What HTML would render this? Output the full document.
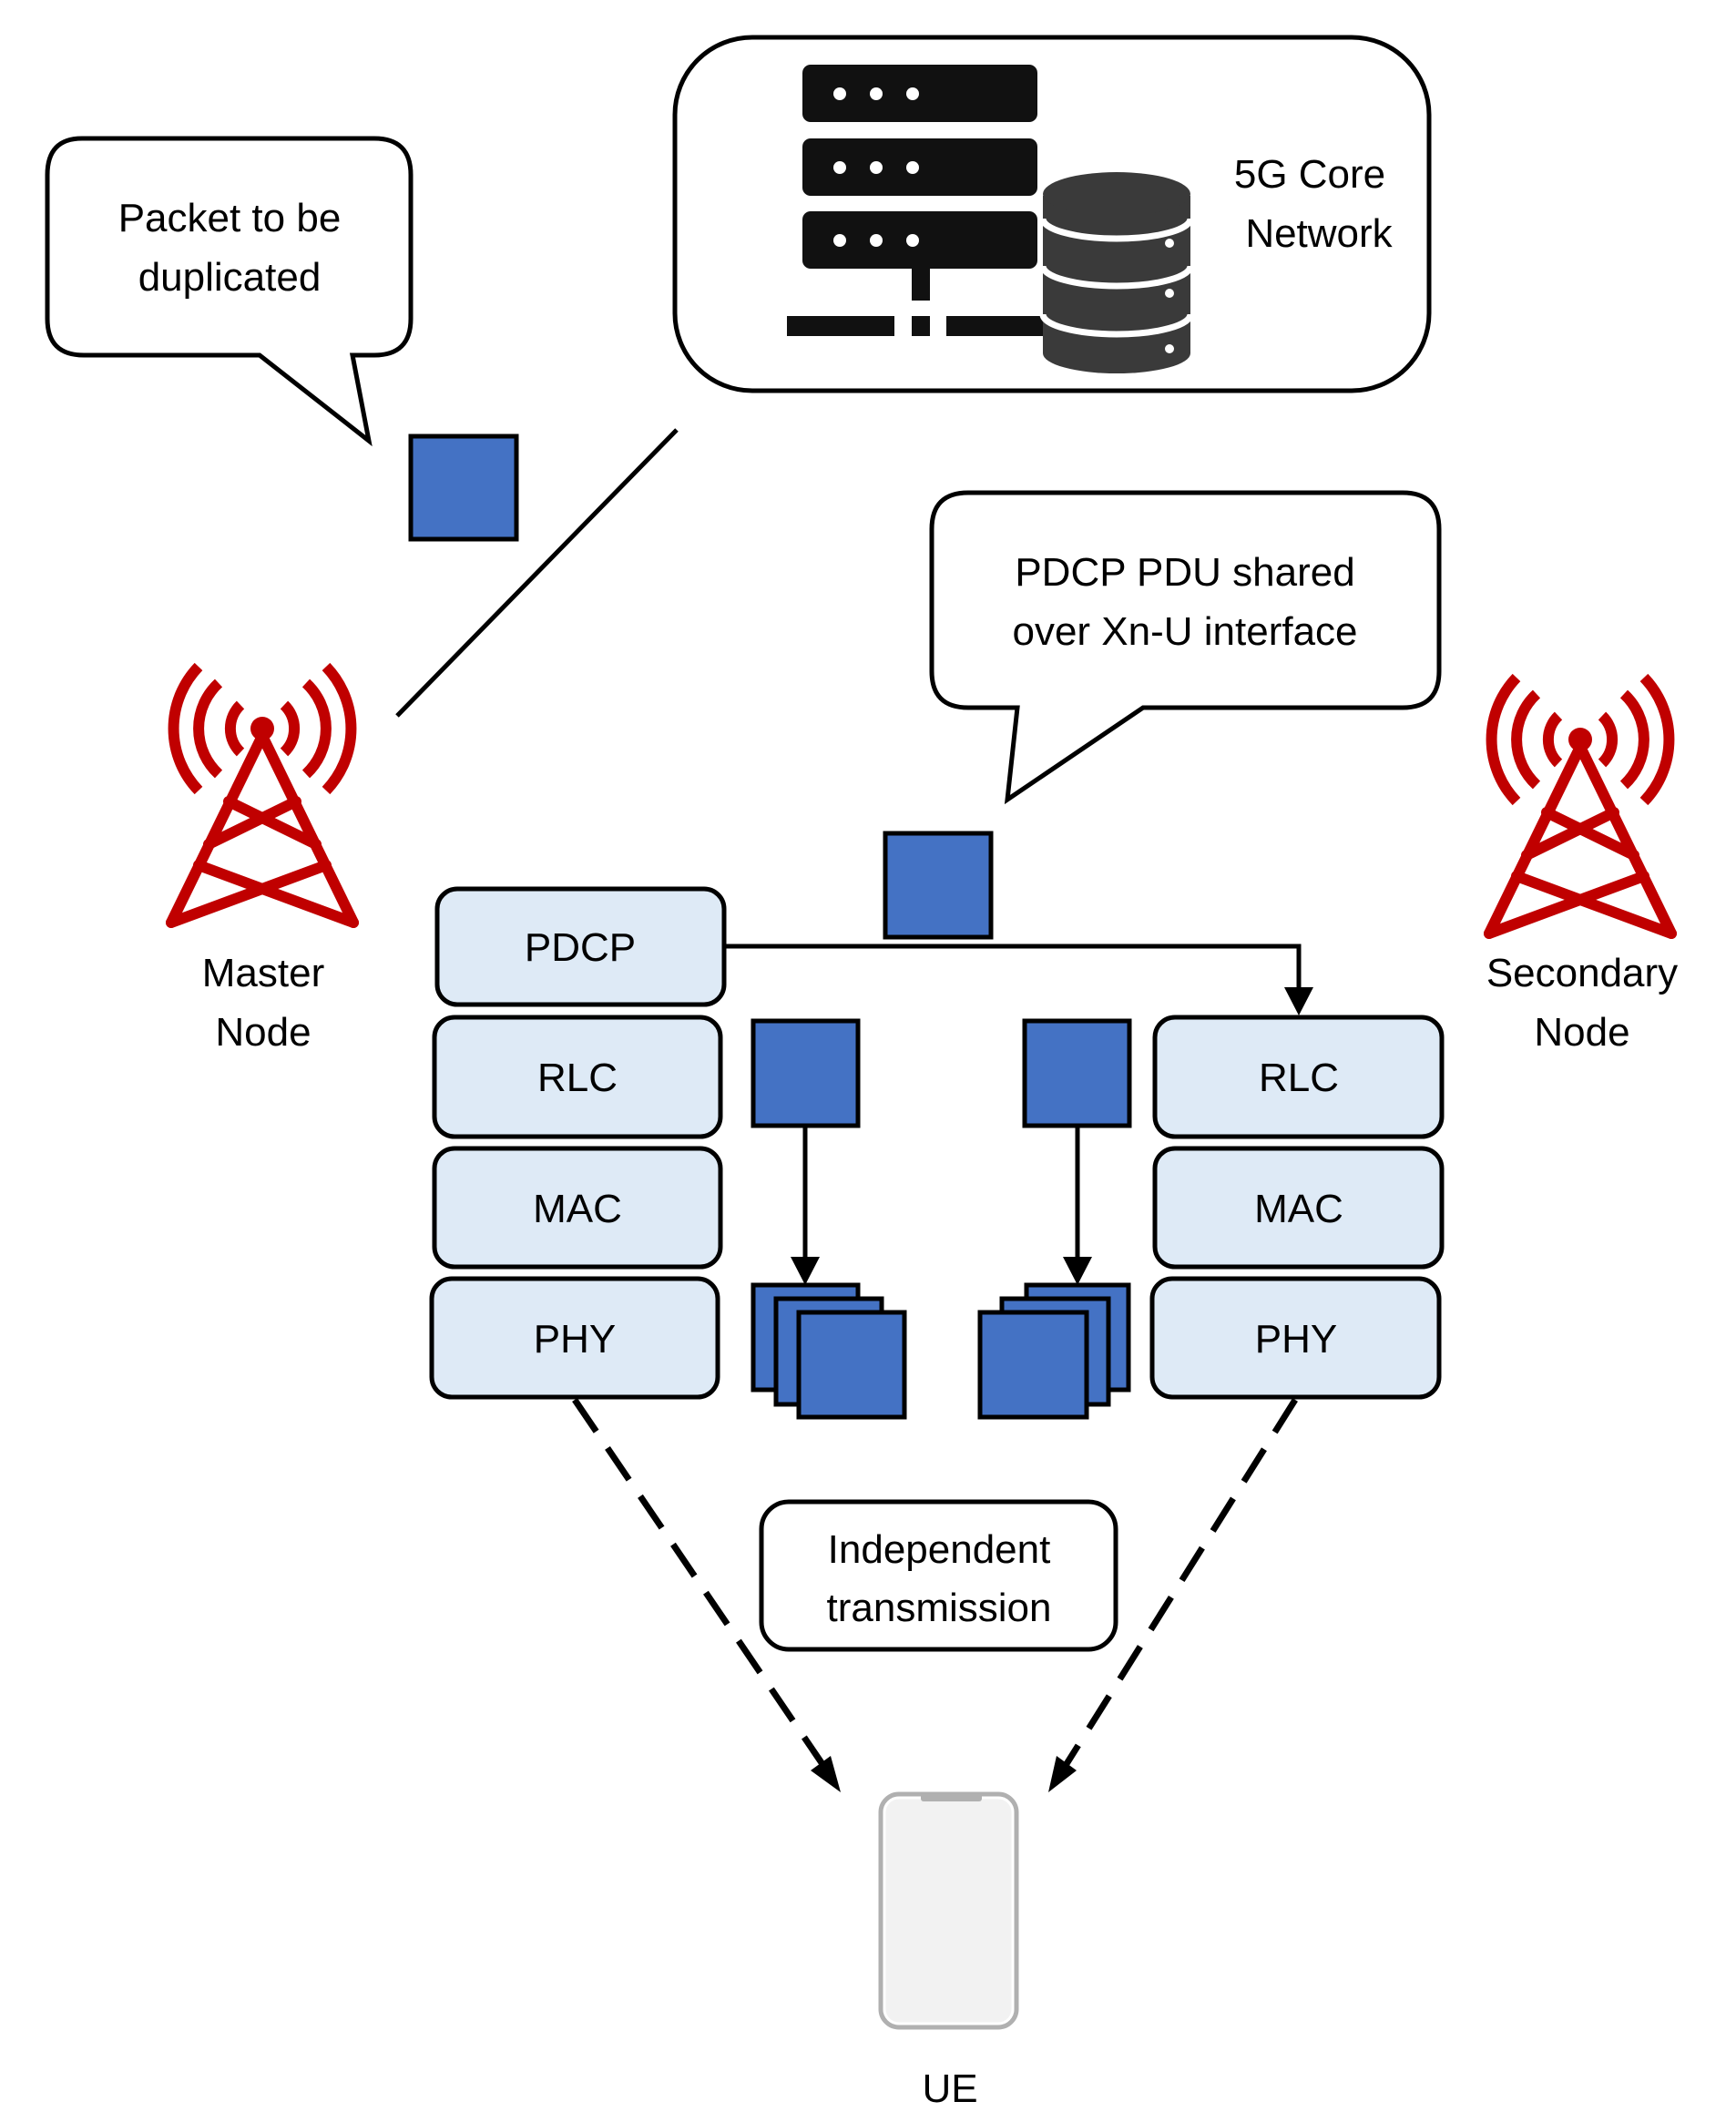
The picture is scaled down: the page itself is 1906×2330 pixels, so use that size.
<!DOCTYPE html>
<html><head><meta charset="utf-8"><style>html,body{margin:0;padding:0;background:#fff}svg{display:block}</style></head><body>
<svg width="1906" height="2330" viewBox="0 0 1906 2330" xmlns="http://www.w3.org/2000/svg" font-family="Liberation Sans, sans-serif" font-size="44" text-anchor="middle">
<defs>
<g id="tw" fill="none" stroke="#c00000" stroke-width="12" stroke-linecap="round" stroke-linejoin="round">
<circle cx="0" cy="0" r="13" fill="#c00000" stroke="none"/>
<path d="M0,8 L-100,213 M0,8 L100,213"/>
<path d="M-37,80 L59,127 M37,80 L-59,127"/>
<path d="M-70,150 L100,213 M70,150 L-100,213"/>
<path d="M-24,-26 A36,36 0 0 0 -24,26 M24,-26 A36,36 0 0 1 24,26" stroke-linecap="butt"/>
<path d="M-48,-50 A68,68 0 0 0 -48,50 M48,-50 A68,68 0 0 1 48,50" stroke-linecap="butt"/>
<path d="M-70,-68 A98,98 0 0 0 -70,68 M70,-68 A98,98 0 0 1 70,68" stroke-linecap="butt"/>
</g>
</defs>
<!-- Packet bubble -->
<path d="M90,152 H411 Q451,152 451,192 V350 Q451,390 411,390 H387 L405,484 L285,390 H92 Q52,390 52,350 V192 Q52,152 90,152 Z" fill="#fff" stroke="#000" stroke-width="5"/>
<text x="252" y="254">Packet to be</text>
<text x="252" y="319">duplicated</text>
<rect x="451" y="479" width="116" height="113" fill="#4472c4" stroke="#000" stroke-width="5"/>
<!-- Core box -->
<rect x="741" y="41" width="828" height="388" rx="85" fill="#fff" stroke="#000" stroke-width="5"/>
<g fill="#111">
<rect x="881" y="71" width="258" height="63" rx="9"/>
<rect x="881" y="152" width="258" height="63" rx="9"/>
<rect x="881" y="232" width="258" height="63" rx="9"/>
<rect x="1001" y="295" width="20" height="35"/>
<rect x="864" y="347" width="118" height="22"/>
<rect x="1001" y="347" width="20" height="22"/>
<rect x="1039" y="347" width="110" height="22"/>
</g>
<g fill="#fff">
<circle cx="922" cy="103" r="7"/><circle cx="962" cy="103" r="7"/><circle cx="1002" cy="103" r="7"/>
<circle cx="922" cy="184" r="7"/><circle cx="962" cy="184" r="7"/><circle cx="1002" cy="184" r="7"/>
<circle cx="922" cy="264" r="7"/><circle cx="962" cy="264" r="7"/><circle cx="1002" cy="264" r="7"/>
</g>
<g>
<path d="M1145,215 V388 A81,22 0 0 0 1307,388 V215 Z" fill="#3a3a3a"/>
<ellipse cx="1226" cy="213" rx="81" ry="24" fill="#3a3a3a"/>
<path d="M1145,240 A81,22 0 0 0 1307,240" fill="none" stroke="#fff" stroke-width="7"/>
<path d="M1145,292 A81,22 0 0 0 1307,292" fill="none" stroke="#fff" stroke-width="7"/>
<path d="M1145,345 A81,22 0 0 0 1307,345" fill="none" stroke="#fff" stroke-width="7"/>
<circle cx="1284" cy="267" r="5" fill="#fff"/><circle cx="1284" cy="322" r="5" fill="#fff"/><circle cx="1284" cy="383" r="5" fill="#fff"/>
</g>
<text x="1438" y="206">5G Core</text>
<text x="1448" y="271">Network</text>
<line x1="743" y1="472" x2="436" y2="786" stroke="#000" stroke-width="5"/>
<!-- Towers -->
<use href="#tw" x="288" y="800"/>
<use href="#tw" x="1735" y="812"/>
<text x="289" y="1083">Master</text>
<text x="289" y="1148">Node</text>
<text x="1737" y="1083">Secondary</text>
<text x="1737" y="1148">Node</text>
<!-- PDCP bubble -->
<path d="M1063,541 H1540 Q1580,541 1580,581 V737 Q1580,777 1540,777 H1255 L1106,878 L1117,777 H1063 Q1023,777 1023,737 V581 Q1023,541 1063,541 Z" fill="#fff" stroke="#000" stroke-width="5"/>
<text x="1301" y="643">PDCP PDU shared</text>
<text x="1301" y="708">over Xn-U interface</text>
<rect x="972" y="915" width="116" height="114" fill="#4472c4" stroke="#000" stroke-width="5"/>
<!-- connector -->
<path d="M795,1039 H1426 V1090" fill="none" stroke="#000" stroke-width="5"/>
<path d="M1410,1084 L1442,1084 L1426,1115 Z" fill="#000"/>
<!-- stacks -->
<g fill="#deeaf6" stroke="#000" stroke-width="5">
<rect x="480" y="976" width="315" height="127" rx="22"/>
<rect x="477" y="1117" width="314" height="131" rx="22"/>
<rect x="477" y="1261" width="314" height="130" rx="22"/>
<rect x="474" y="1404" width="314" height="130" rx="22"/>
<rect x="1268" y="1117" width="315" height="131" rx="22"/>
<rect x="1268" y="1261" width="315" height="130" rx="22"/>
<rect x="1265" y="1404" width="315" height="130" rx="22"/>
</g>
<g>
<text x="637" y="1055">PDCP</text>
<text x="634" y="1198">RLC</text>
<text x="634" y="1342">MAC</text>
<text x="631" y="1485">PHY</text>
<text x="1426" y="1198">RLC</text>
<text x="1426" y="1342">MAC</text>
<text x="1423" y="1485">PHY</text>
</g>
<!-- small packets -->
<g fill="#4472c4" stroke="#000" stroke-width="5">
<rect x="827" y="1121" width="115" height="115"/>
<rect x="1125" y="1121" width="115" height="115"/>
<rect x="827" y="1411" width="115" height="115"/>
<rect x="852" y="1426" width="116" height="116"/>
<rect x="877" y="1441" width="116" height="115"/>
<rect x="1127" y="1411" width="112" height="115"/>
<rect x="1100" y="1426" width="117" height="116"/>
<rect x="1076" y="1441" width="117" height="115"/>
</g>
<g stroke="#000" stroke-width="5">
<line x1="884" y1="1236" x2="884" y2="1385"/>
<line x1="1183" y1="1236" x2="1183" y2="1385"/>
</g>
<path d="M868,1380 L900,1380 L884,1411 Z" fill="#000"/>
<path d="M1167,1380 L1199,1380 L1183,1411 Z" fill="#000"/>
<!-- dashed arrows -->
<g stroke="#000" stroke-width="7" stroke-dasharray="42,22">
<line x1="631" y1="1537" x2="905" y2="1940"/>
<line x1="1422" y1="1537" x2="1169" y2="1940"/>
</g>
<path d="M923,1968 L890,1944 L912,1928 Z" fill="#000"/>
<path d="M1151,1968 L1160,1928 L1182,1944 Z" fill="#000"/>
<rect x="836" y="1649" width="389" height="162" rx="30" fill="#fff" stroke="#000" stroke-width="5"/>
<text x="1031" y="1716">Independent</text>
<text x="1031" y="1780">transmission</text>
<!-- phone -->
<rect x="967" y="1970" width="149" height="256" rx="20" fill="#f2f2f2" stroke="#b0b0b0" stroke-width="5"/>
<rect x="971" y="1974" width="141" height="248" rx="16" fill="none" stroke="#fff" stroke-width="3"/>
<rect x="1011" y="1968" width="67" height="10" rx="3" fill="#b0b0b0"/>
<text x="1043" y="2308">UE</text>
</svg>
</body></html>
